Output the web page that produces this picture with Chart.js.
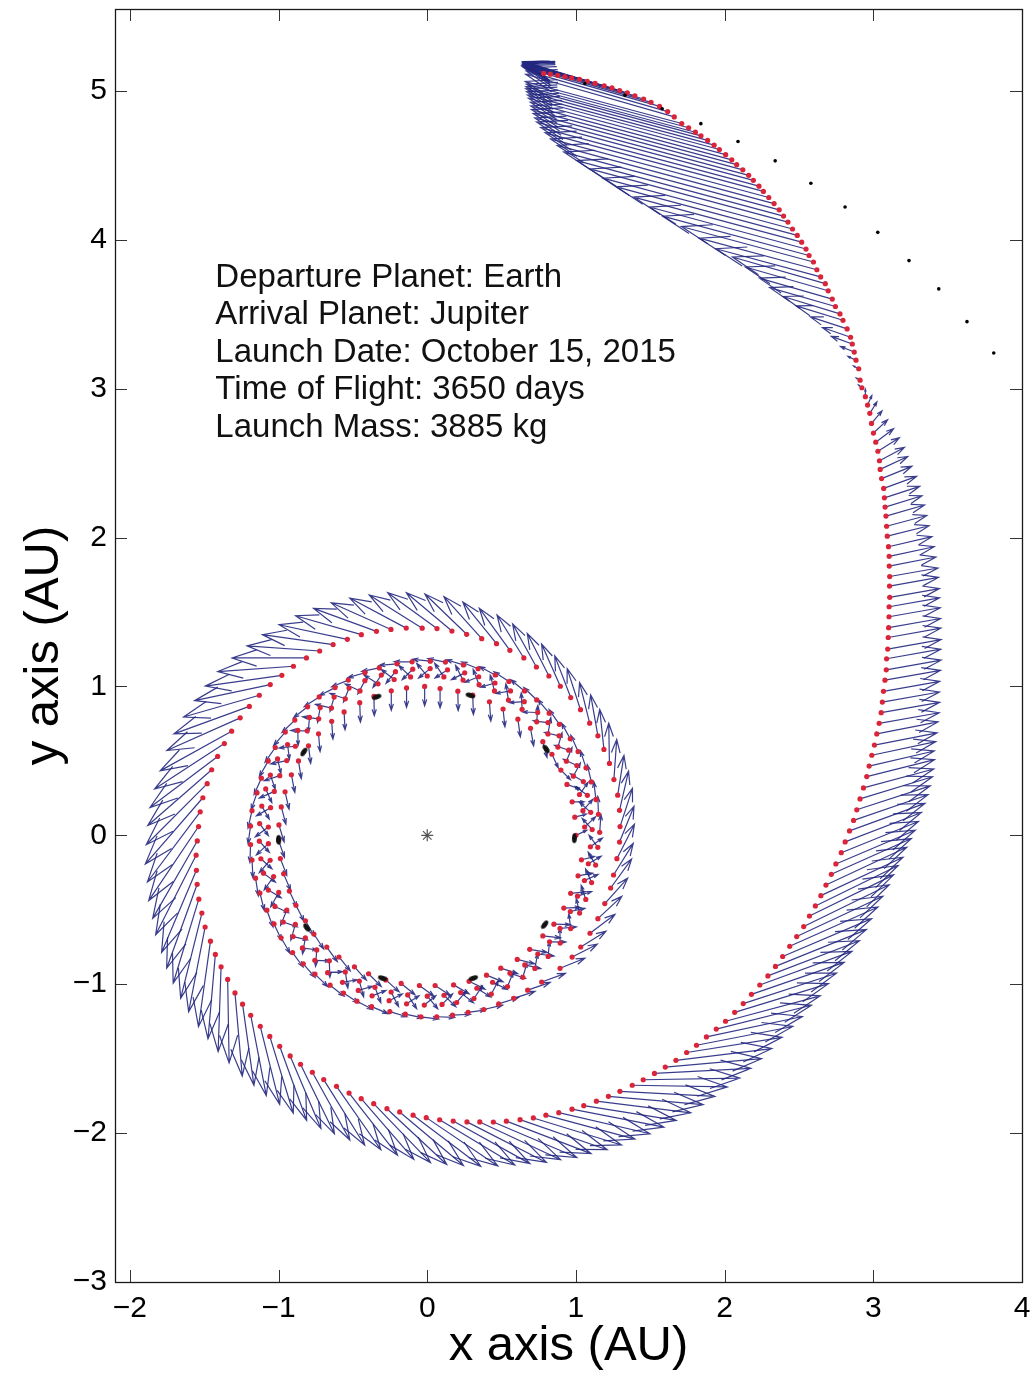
<!DOCTYPE html>
<html>
<head>
<meta charset="utf-8">
<title>Earth to Jupiter low-thrust trajectory</title>
<script src="https://cdn.jsdelivr.net/npm/chart.js@4.4.0/dist/chart.umd.min.js"></script>
<style>
  html, body { margin: 0; padding: 0; background: #fff; }
  #wrap { width: 1034px; height: 1378px; position: relative; }
</style>
</head>
<body>
<div id="wrap"><canvas id="c" width="1034" height="1378"></canvas></div>
<script>
// ---- Axis ticks and labels ----
const xTicks = [-2, -1, 0, 1, 2, 3, 4];
const yTicks = [-3, -2, -1, 0, 1, 2, 3, 4, 5];
const axisTitles = { x: 'x axis (AU)', y: 'y axis (AU)' };
const infoLines = [
  'Departure Planet: Earth',
  'Arrival Planet: Jupiter',
  'Launch Date: October 15, 2015',
  'Time of Flight: 3650 days',
  'Launch Mass: 3885 kg'
];

// ---- Spacecraft track: heliocentric radius (AU), longitude (deg),
//      thrust arrow length (AU) and thrust direction (deg) ----
// Phase 1: four slow turns close to 1 AU after departure
const innerR = [
  1.00,1.00,1.00,1.00,1.00,1.00,1.00,1.00,0.99,0.99,
  0.99,0.99,0.99,0.99,1.00,1.00,1.00,1.00,1.00,1.00,
  1.00,1.00,1.00,1.00,1.00,1.00,1.00,1.00,1.00,1.00,
  1.00,1.00,1.00,1.00,1.01,1.01,1.01,1.01,1.01,1.01,
  1.01,1.01,1.01,1.02,1.02,1.02,1.02,1.03,1.03,1.03,
  1.04,1.04,1.04,1.05,1.05,
  1.06,1.06,1.06,1.06,1.06,1.06,1.06,1.06,1.06,1.06,
  1.07,1.07,1.07,1.07,1.07,1.07,1.07,1.07,1.07,1.07,
  1.07,1.07,1.07,1.07,1.07,1.07,1.07,1.07,1.07,1.07,
  1.07,1.07,1.07,1.07,1.07,1.07,1.07,1.07,1.07,1.08,
  1.08,1.08,1.08,1.08,1.08,1.08,1.08,1.08,1.08,1.09,
  1.09,1.09,1.09,1.09,1.09,1.10,1.10,1.10,
  1.11,1.11,1.11,1.11,1.11,1.11,1.11,1.11,1.11,1.11,
  1.12,1.12,1.12,1.12,1.12,1.12,1.12,1.12,1.12,1.12,
  1.12,1.12,1.12,1.12,1.12,1.12,1.13,1.13,1.13,1.13,
  1.13,1.13,1.13,1.13,1.13,1.13,1.13,1.13,1.13,1.13,
  1.14,1.14,1.14,1.14,1.14,1.14,1.14,1.14,1.14,1.14,
  1.15,1.15,1.15,1.15,1.15,1.15,1.15,1.15,1.15,1.15,
  1.15,1.15,
  1.16,1.16,1.16,1.16,1.16,1.16,1.16,1.16,1.16,1.17,
  1.17,1.17,1.17,1.17,1.17,1.17,1.17,1.17,1.17,1.17,
  1.17,1.17,1.17,1.18,1.18,1.18,1.18,1.18,1.18,1.18,
  1.18,1.19,1.19,1.19,1.19,1.19,1.19,1.19,1.19,1.20,
  1.20,1.20,1.20,1.20,1.20,1.21,1.21,1.21,1.21,1.22,
  1.22,1.22,1.22,1.23,1.23,1.24,1.24,1.25,1.263,1.272,
  1.276,1.277,1.277,1.279,1.283,1.281,1.285,1.294
];
const innerLon = [
  0,7,13,20,26,33,39,46,52,59,
  65,72,78,85,91,98,104,111,117,124,
  130,137,143,150,156,163,169,176,182,189,
  195,202,208,215,221,228,234,241,247,254,
  260,267,273,280,286,293,299,306,312,319,
  325,332,338,345,351,
  3,9,15,22,28,34,40,46,53,59,
  65,71,77,84,90,96,102,108,115,121,
  127,133,139,146,152,158,164,170,177,183,
  189,195,201,208,214,220,226,232,239,245,
  251,257,263,270,276,282,288,294,301,307,
  313,319,325,332,338,344,350,356,
  2,8,14,19,25,31,37,43,48,54,
  60,66,72,77,83,89,95,101,106,112,
  118,124,130,135,141,147,153,159,164,170,
  176,182,188,193,199,205,211,217,222,228,
  234,240,246,251,257,263,269,275,280,286,
  292,298,304,309,315,321,327,333,338,344,
  350,356,
  1,7,12,18,23,29,34,40,45,51,
  56,62,67,73,78,84,89,95,100,106,
  111,117,122,128,133,139,144,150,155,161,
  166,172,177,183,188,194,199,205,210,215,
  221,226,231,237,242,247,252,258,263,268,
  273,278,283,288,293,298,303,308,315,320,
  324,329,334,339,344,348,353,358
];
const innerThrust = [
  0.08,0.08,0.08,0.09,0.09,0.10,0.11,0.12,0.12,0.12,
  0.13,0.13,0.13,0.13,0.13,0.13,0.13,0.13,0.13,0.12,
  0.12,0.12,0.12,0.12,0.12,0.12,0.12,0.12,0.12,0.12,
  0.12,0.12,0.12,0.12,0.12,0.12,0.12,0.12,0.12,0.12,
  0.12,0.12,0.12,0.12,0.12,0.12,0.12,0.12,0.12,0.12,
  0.11,0.11,0.10,0.10,0.09,
  0.10,0.10,0.10,0.10,0.10,0.10,0.11,0.11,0.11,0.11,
  0.11,0.11,0.11,0.11,0.11,0.11,0.11,0.11,0.11,0.11,
  0.11,0.11,0.11,0.11,0.11,0.11,0.11,0.11,0.11,0.11,
  0.11,0.11,0.11,0.11,0.11,0.11,0.11,0.11,0.11,0.11,
  0.11,0.11,0.11,0.11,0.11,0.11,0.11,0.11,0.11,0.11,
  0.11,0.11,0.11,0.10,0.10,0.10,0.10,0.10,
  0.10,0.10,0.10,0.10,0.10,0.10,0.10,0.10,0.10,0.10,
  0.10,0.10,0.10,0.10,0.10,0.10,0.10,0.10,0.10,0.10,
  0.10,0.10,0.10,0.10,0.10,0.10,0.10,0.10,0.10,0.10,
  0.10,0.10,0.10,0.10,0.10,0.10,0.10,0.10,0.10,0.10,
  0.10,0.10,0.10,0.10,0.10,0.10,0.10,0.10,0.10,0.10,
  0.10,0.10,0.10,0.10,0.10,0.10,0.10,0.10,0.10,0.10,
  0.10,0.10,
  0.12,0.12,0.12,0.12,0.12,0.12,0.12,0.12,0.12,0.12,
  0.12,0.12,0.12,0.12,0.12,0.12,0.12,0.12,0.12,0.12,
  0.12,0.12,0.12,0.12,0.12,0.12,0.12,0.12,0.12,0.12,
  0.12,0.12,0.12,0.12,0.12,0.12,0.12,0.12,0.12,0.12,
  0.12,0.12,0.12,0.12,0.12,0.12,0.12,0.12,0.12,0.12,
  0.12,0.12,0.12,0.13,0.14,0.15,0.16,0.17,0.18,0.19,
  0.20,0.21,0.22,0.23,0.24,0.25,0.26,0.26
];
const innerDir = [
  25,15,0,340,315,295,285,280,278,276,
  274,272,271,270,270,270,270,271,272,273,
  274,275,277,279,281,283,285,287,289,291,
  293,295,297,300,303,306,309,312,315,318,
  321,324,327,330,334,338,342,346,350,354,
  358,2,6,10,14,
  43,49,55,62,68,74,80,86,93,99,
  105,111,117,124,130,136,142,148,155,161,
  167,173,179,186,192,198,204,210,217,223,
  229,235,241,248,254,260,266,272,279,285,
  291,297,303,310,316,322,328,334,341,347,
  353,359,5,12,18,24,30,36,
  132,138,144,149,155,161,167,173,178,184,
  190,196,202,207,213,219,225,231,236,242,
  248,254,260,265,271,277,283,289,294,300,
  306,312,318,323,329,335,341,347,352,358,
  4,10,16,21,27,33,39,45,50,56,
  62,68,74,79,85,91,97,103,108,114,
  120,126,
  86,92,97,103,108,114,119,125,130,136,
  141,147,152,158,163,169,174,180,185,191,
  196,202,207,213,218,224,229,235,240,246,
  251,257,262,268,273,279,284,290,295,300,
  306,311,316,322,327,332,337,343,348,353,
  358,3,8,13,18,18,19,20,22,27,
  32,37,43,48,54,58,63,68
];

// Phase 2: the widening loop from 1.3 AU out to 2.8 AU
const outerR = [
  1.298,1.304,1.309,1.310,1.317,1.321,1.328,1.327,1.332,1.337,
  1.343,1.347,1.348,1.357,1.361,1.369,1.371,1.376,1.382,1.390,
  1.392,1.399,1.404,1.412,1.419,1.422,1.429,1.434,1.442,1.449,
  1.453,1.463,1.470,1.477,1.485,1.490,1.497,1.506,1.515,1.520,
  1.530,1.535,1.539,1.547,1.560,1.570,1.582,1.595,1.603,1.616,
  1.622,1.634,1.644,1.655,1.671,1.682,1.694,1.705,1.716,1.730,
  1.745,1.758,1.769,1.782,1.793,1.809,1.824,1.838,1.856,1.867,
  1.882,1.896,1.912,1.927,1.943,1.957,1.976,1.992,2.009,2.028,
  2.042,2.062,2.081,2.099,2.117,2.135,2.153,2.172,2.192,2.212,
  2.233,2.254,2.274,2.295,2.315,2.339,2.363,2.385,2.407,2.428,
  2.452,2.478,2.502,2.525,2.549,2.576,2.605,2.627,2.653,2.678,
  2.702,2.730,2.755,2.787,2.811,2.840
];
const outerLon = [
  2.6,7.4,11.9,16.6,21.5,25.9,30.2,34.6,39.3,43.8,
  48.2,52.6,57.0,61.4,65.9,70.1,74.5,78.9,83.1,87.3,
  91.4,95.8,100.0,104.0,108.2,112.2,116.3,120.3,124.3,128.4,
  132.3,136.2,140.2,144.1,147.9,152.0,155.7,159.4,163.1,166.8,
  170.5,174.1,177.8,181.4,184.9,188.6,192.0,195.6,199.0,202.4,
  206.0,209.3,212.5,215.8,219.3,222.4,225.5,228.8,231.9,235.0,
  238.1,241.0,244.1,247.0,250.1,253.1,255.9,258.7,261.6,264.3,
  267.1,269.8,272.5,275.2,277.9,280.4,283.0,285.5,288.1,290.6,
  293.0,295.4,297.9,300.1,302.5,304.8,307.0,309.4,311.5,313.7,
  315.8,317.9,320.1,322.1,324.2,326.2,328.1,330.1,332.0,333.9,
  335.8,337.6,339.4,341.2,343.0,344.7,346.4,348.1,349.7,351.3,
  352.9,354.5,356.0,357.6,359.1,0.6
];
const outerThrust = [
  0.27,0.27,0.27,0.27,0.27,0.27,0.28,0.28,0.29,0.30,
  0.31,0.32,0.33,0.34,0.35,0.36,0.38,0.39,0.40,0.41,
  0.42,0.43,0.44,0.45,0.46,0.47,0.48,0.49,0.50,0.51,
  0.52,0.52,0.53,0.54,0.54,0.55,0.56,0.57,0.57,0.58,
  0.59,0.59,0.60,0.60,0.60,0.60,0.60,0.59,0.59,0.58,
  0.58,0.57,0.57,0.56,0.56,0.55,0.55,0.54,0.54,0.53,
  0.53,0.52,0.52,0.52,0.52,0.53,0.54,0.55,0.55,0.56,
  0.57,0.58,0.59,0.59,0.60,0.60,0.61,0.61,0.62,0.62,
  0.62,0.63,0.63,0.63,0.64,0.64,0.64,0.64,0.65,0.65,
  0.65,0.65,0.65,0.66,0.66,0.66,0.66,0.66,0.66,0.66,
  0.66,0.66,0.66,0.65,0.65,0.64,0.64,0.63,0.62,0.61,
  0.60,0.59,0.58,0.56,0.55,0.54
];
const outerDir = [
  72,77,81,86,91,96,100,104,108,111,
  114,117,119,122,126,129,132,136,140,144,
  148,152,156,160,164,168,172,176,180,184,
  188,192,196,200,204,209,213,217,221,225,
  229,233,236,240,243,247,250,253,256,259,
  262,265,268,271,275,278,281,284,287,290,
  293,296,299,302,305,308,311,314,317,320,
  323,326,329,331,333,335,337,339,341,343,
  345,347,349,351,353,355,357,359,1,3,
  5,7,9,11,12,14,15,17,18,19,
  20,21,22,23,24,25,26,26,26,25,
  25,24,23,22,21,20
];

// Phase 3: climb to 4.2 AU, then the final arc to Jupiter
const finalR = [
  2.869,2.894,2.921,2.951,2.982,3.008,3.038,3.068,3.099,3.131,
  3.162,3.189,3.217,3.250,3.281,3.309,3.340,3.373,3.402,3.435,
  3.465,3.497,3.531,3.563,3.595,3.628,3.658,3.689,3.722,3.757,
  3.787,3.820,3.854,3.883,3.914,3.947,3.980,4.009,4.038,4.072,
  4.110,4.138,4.167,4.193,4.221,
  4.271,4.301,4.334,4.366,4.393,4.421,4.448,4.469,4.489,4.516,
  4.544,4.571,4.590,4.615,4.645,4.665,4.690,4.713,4.736,4.756,
  4.780,4.800,4.822,4.842,4.861,4.880,4.898,4.916,4.932,4.948,
  4.962,4.978,4.993,5.008,5.021,5.034,5.046,5.055,5.067,5.078,
  5.103,5.123,5.139,5.148,5.155,5.160,5.165,5.167,5.171,5.173,
  5.175,5.177,5.180,5.179,5.180,5.180,5.179,5.177
];
const finalLon = [
  2.0,3.4,4.8,6.2,7.6,8.9,10.2,11.4,12.7,13.9,
  15.1,16.3,17.5,18.7,19.8,21.0,22.0,23.2,24.2,25.3,
  26.3,27.2,28.3,29.2,30.2,31.1,32.0,33.0,33.9,34.8,
  35.6,36.4,37.2,38.1,38.9,39.6,40.4,41.2,42.0,42.8,
  43.6,44.3,45.0,45.8,46.4,
  47.2,47.9,48.5,49.1,49.6,50.3,51.05,51.6,52.3,52.9,
  53.6,54.15,54.8,55.4,56.0,56.6,57.1,57.7,58.3,58.9,
  59.5,60.05,60.6,61.2,61.8,62.4,62.9,63.5,64.0,64.6,
  65.2,65.7,66.3,66.9,67.4,68.0,68.6,69.1,69.7,70.3,
  71.0,71.6,72.3,73.0,73.6,74.3,74.9,75.5,76.1,76.7,
  77.4,78.0,78.6,79.2,79.7,80.25,80.8,81.3
];
const finalThrust = [
  0.53,0.52,0.51,0.49,0.47,0.45,0.44,0.43,0.42,0.41,
  0.40,0.39,0.385,0.38,0.375,0.37,0.365,0.36,0.355,0.35,
  0.345,0.34,0.335,0.33,0.32,0.31,0.30,0.29,0.28,0.27,
  0.26,0.25,0.235,0.22,0.205,0.19,0.17,0.15,0.13,0.11,
  0.09,0.07,0.05,0.03,0.03,
  0.04,0.06,0.10,0.15,0.20,0.26,0.33,0.40,0.46,0.51,
  0.58,0.65,0.73,0.82,0.92,1.02,1.09,1.17,1.26,1.32,
  1.38,1.44,1.50,1.51,1.52,1.52,1.52,1.51,1.49,1.46,
  1.43,1.40,1.36,1.33,1.30,1.26,1.22,1.18,1.13,1.09,
  1.04,0.99,0.94,0.89,0.84,0.78,0.73,0.67,0.62,0.56,
  0.50,0.45,0.40,0.34,0.29,0.25,0.20,0.15
];
const finalDir = [
  19,18,17,15,14,13,12,11,11,10,
  10,10,10,10,10,10,10,10,10,10,
  10,10,10,10,11,12,13,14,15,16,
  17,18,20,22,25,28,32,37,43,50,
  58,66,90,140,150,
  152,155,158,160,161,162,163,163,164,164,
  164,164,165,165,165,165,165,165,165,165,
  165,165,165,165,165,165,165,165,165,165,
  165,165,165,165,165,165,165,165,165,165,
  164,164,164,164,164,164,164,164,164,164,
  163,163,163,163,163,163,163,163
];

// ---- Planet positions ----
const jupiterX = [1.06, 1.33, 1.58, 1.84, 2.09, 2.34, 2.58, 2.81, 3.03, 3.24, 3.44, 3.63, 3.81];
const jupiterY = [5.05, 4.97, 4.88, 4.78, 4.66, 4.53, 4.38, 4.22, 4.05, 3.86, 3.67, 3.45, 3.24];
const earthX = [0.99, 0.80, 0.29, -0.34, -0.83, -1.00, -0.81, -0.30, 0.31, 0.79];
const earthY = [-0.02, 0.58, 0.94, 0.93, 0.56, -0.03, -0.62, -0.96, -0.96, -0.60];

// ---- Build point tables ----
const DEG = Math.PI / 180;
const FONT = "'Liberation Sans', Arial, Helvetica, sans-serif";
const phases = [
  { r: innerR, lon: innerLon, len: innerThrust, dir: innerDir },
  { r: outerR, lon: outerLon, len: outerThrust, dir: outerDir },
  { r: finalR, lon: finalLon, len: finalThrust, dir: finalDir }
];
const track = [];
const thrust = [];
phases.forEach(p => {
  const n = Math.min(p.r.length, p.lon.length, p.len.length, p.dir.length);
  for (let i = 0; i < n; i++) {
    const a = p.lon[i] * DEG, d = p.dir[i] * DEG;
    const x = p.r[i] * Math.cos(a), y = p.r[i] * Math.sin(a);
    track.push({ x, y });
    thrust.push({ x, y, u: p.len[i] * Math.cos(d), v: p.len[i] * Math.sin(d) });
  }
});
const jupiter = jupiterX.map((x, i) => ({ x, y: jupiterY[i] }));
const earth = earthX.map((x, i) => ({ x, y: earthY[i] }));

// Elongated marker for the Earth positions
const blob = document.createElement('canvas');
blob.width = 10; blob.height = 5;
{
  const b = blob.getContext('2d');
  b.fillStyle = '#111';
  b.beginPath();
  b.ellipse(5, 2.5, 4.8, 2.4, 0, 0, Math.PI * 2);
  b.fill();
}

// Thrust arrows, drawn quiver-style underneath the markers
const quiverPlugin = {
  id: 'quiver',
  beforeDatasetsDraw(chart) {
    const { ctx, chartArea: a, scales } = chart;
    const sx = scales.x, sy = scales.y;
    const alpha = 0.33, beta = 0.33, maxHead = 30;
    ctx.save();
    ctx.beginPath();
    ctx.rect(a.left, a.top, a.right - a.left, a.bottom - a.top);
    ctx.clip();
    ctx.strokeStyle = 'rgba(36,40,128,0.9)';
    ctx.lineWidth = 1.2;
    thrust.forEach(t => {
      const x0 = sx.getPixelForValue(t.x), y0 = sy.getPixelForValue(t.y);
      const x1 = sx.getPixelForValue(t.x + t.u), y1 = sy.getPixelForValue(t.y + t.v);
      const du = x1 - x0, dv = y1 - y0;
      const len = Math.hypot(du, dv);
      if (len < 0.5) return;
      const k = Math.min(alpha, maxHead / len);
      ctx.beginPath();
      ctx.moveTo(x0, y0);
      ctx.lineTo(x1, y1);
      ctx.moveTo(x1 - k * (du + beta * dv), y1 - k * (dv - beta * du));
      ctx.lineTo(x1, y1);
      ctx.lineTo(x1 - k * (du - beta * dv), y1 - k * (dv + beta * du));
      ctx.stroke();
    });
    ctx.restore();
  }
};

// Box, inward ticks, axis titles and the mission summary
const framePlugin = {
  id: 'frame',
  afterDraw(chart) {
    const { ctx, chartArea: a, scales } = chart;
    const sx = scales.x, sy = scales.y;
    const T = 12;
    ctx.save();
    ctx.strokeStyle = '#333';
    ctx.lineWidth = 1;
    ctx.beginPath();
    xTicks.forEach(v => {
      const px = Math.round(sx.getPixelForValue(v)) + 0.5;
      ctx.moveTo(px, a.bottom); ctx.lineTo(px, a.bottom - T);
      ctx.moveTo(px, a.top); ctx.lineTo(px, a.top + T);
    });
    yTicks.forEach(v => {
      const py = Math.round(sy.getPixelForValue(v)) + 0.5;
      ctx.moveTo(a.left, py); ctx.lineTo(a.left + T, py);
      ctx.moveTo(a.right, py); ctx.lineTo(a.right - T, py);
    });
    ctx.stroke();
    ctx.strokeStyle = '#1a1a1a';
    ctx.lineWidth = 1.3;
    ctx.strokeRect(Math.round(a.left) + 0.5, Math.round(a.top) + 0.5,
                   Math.round(a.right - a.left), Math.round(a.bottom - a.top));

    ctx.fillStyle = '#000';
    ctx.font = '49px ' + FONT;
    ctx.textAlign = 'center';
    ctx.textBaseline = 'alphabetic';
    ctx.fillText(axisTitles.x, (a.left + a.right) / 2, 1360);
    ctx.save();
    ctx.translate(58, (a.top + a.bottom) / 2);
    ctx.rotate(-Math.PI / 2);
    ctx.fillText(axisTitles.y, 0, 0);
    ctx.restore();

    ctx.font = '33px ' + FONT;
    ctx.textAlign = 'left';
    ctx.fillStyle = '#111';
    const tx = sx.getPixelForValue(-1.425);
    const ty = sy.getPixelForValue(3.685);
    infoLines.forEach((s, i) => ctx.fillText(s, tx, ty + i * 37.6));
    ctx.restore();
  }
};

const tickFmt = v => (v < 0 ? '\u2212' + Math.abs(v) : String(v));

new Chart(document.getElementById('c'), {
  type: 'scatter',
  data: {
    datasets: [
      {
        label: 'Earth',
        data: earth,
        pointStyle: blob,
        pointRadius: 5,
        pointRotation: c => (c.raw ? -(Math.atan2(c.raw.y, c.raw.x) / DEG + 90) : 0)
      },
      {
        label: 'Jupiter',
        data: jupiter,
        pointRadius: 1.8,
        pointBackgroundColor: '#000',
        pointBorderWidth: 0
      },
      {
        label: 'Sun',
        data: [{ x: 0, y: 0 }],
        pointStyle: 'star',
        pointRadius: 6,
        pointBorderColor: '#555',
        pointBorderWidth: 1.2
      },
      {
        label: 'Spacecraft',
        data: track,
        pointRadius: 2.6,
        pointBackgroundColor: 'rgb(218,36,58)',
        pointBorderWidth: 0
      }
    ]
  },
  options: {
    responsive: false,
    animation: false,
    devicePixelRatio: 1,
    events: [],
    layout: { padding: { top: 9, right: 12, left: 0, bottom: 0 } },
    plugins: { legend: { display: false }, tooltip: { enabled: false } },
    scales: {
      x: {
        type: 'linear',
        min: -2.1,
        max: 4,
        afterBuildTicks: s => { s.ticks = xTicks.map(v => ({ value: v })); },
        afterFit: s => { s.height = 96; s.paddingLeft = 0; s.paddingRight = 0; },
        grid: { display: false, drawTicks: false },
        border: { display: false },
        ticks: {
          font: { family: FONT, size: 30 },
          color: '#000',
          padding: 9,
          maxRotation: 0,
          autoSkip: false,
          callback: tickFmt
        }
      },
      y: {
        type: 'linear',
        min: -3,
        max: 5.55,
        afterBuildTicks: s => { s.ticks = yTicks.map(v => ({ value: v })); },
        afterFit: s => { s.width = 115; s.paddingTop = 0; s.paddingBottom = 0; },
        grid: { display: false, drawTicks: false },
        border: { display: false },
        ticks: {
          font: { family: FONT, size: 30 },
          color: '#000',
          padding: 8,
          autoSkip: false,
          callback: tickFmt
        }
      }
    }
  },
  plugins: [quiverPlugin, framePlugin]
});
</script>
</body>
</html>
